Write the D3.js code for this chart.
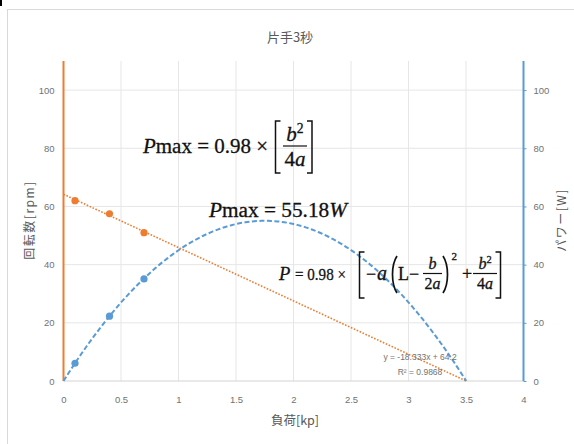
<!DOCTYPE html>
<html>
<head>
<meta charset="utf-8">
<script src="https://cdn.jsdelivr.net/npm/d3@7"></script>
<style>
html, body { margin: 0; padding: 0; background: #fff; }
svg { display: block; }
</style>
</head>
<body>
<div id="chart"></div>
<script>
// measured data (load in kp, rpm, power in W)
var loads = [0.1, 0.4, 0.7];
var rpmValues = [62, 57.5, 51];
var powerValues = [6.1, 22.3, 35.1];

var xTicks = [0, 0.5, 1, 1.5, 2, 2.5, 3, 3.5, 4];
var yTicks = [0, 20, 40, 60, 80, 100];

// linear trendline of rpm, as printed on the chart
var trendSlope = -18.333,
    trendIntercept = 64.2,
    efficiency = 0.98;
var trendLabels = ["y = -18.333x + 64.2", "R² = 0.9868"];

var chartTitle = "片手3秒",
    xTitle = "負荷[kp]",
    yLeftTitle = "回転数[rpm]",
    yRightTitle = "パワー[W]";

function PowerChart(placeholderName, configuration)
{
    this.placeholderName = placeholderName;

    var self = this;

    var width = 574,
        height = 444,
        plot = {left: 63.5, right: 523.5, top: 61, bottom: 381},
        orange = "#ED7D31",
        blue = "#5B9BD5",
        grid = "#e6e6e6",
        ink = "#111",
        labelFont = "'Liberation Sans Narrow', 'Liberation Sans', Arial, sans-serif",
        cjkFont = "'Noto Sans CJK JP', sans-serif",
        mathFont = "'Liberation Serif', 'DejaVu Serif', serif";

    this.configure = function(configuration)
    {
        this.config = configuration;
    }

    this.render = function()
    {
        var cfg = this.config;

        var svg = d3.select(this.placeholderName)
            .append("svg")
            .attr("width", width)
            .attr("height", height);

        // chart area frame
        svg.append("rect")
            .attr("x", 7.5).attr("y", 9.5)
            .attr("width", 700).attr("height", 600)
            .attr("fill", "#fff")
            .attr("stroke", "#d9d9d9");
        svg.append("rect")
            .attr("x", 0).attr("y", 0)
            .attr("width", 2).attr("height", 6)
            .attr("fill", "#000");

        var x = d3.scaleLinear().domain([0, 4]).range([plot.left, plot.right]);
        var yL = d3.scaleLinear().domain([0, 110]).range([plot.bottom, plot.top]);
        var yR = d3.scaleLinear().domain([0, 110]).range([plot.bottom, plot.top]);

        // gridlines
        svg.append("g")
            .selectAll("line")
            .data(xTicks.filter(function(d) { return d > 0 && d < 4; }))
            .enter().append("line")
            .attr("x1", function(d) { return x(d); })
            .attr("x2", function(d) { return x(d); })
            .attr("y1", plot.top).attr("y2", plot.bottom)
            .attr("stroke", grid);

        svg.append("g")
            .selectAll("line")
            .data(yTicks)
            .enter().append("line")
            .attr("x1", plot.left).attr("x2", plot.right)
            .attr("y1", function(d) { return yL(d); })
            .attr("y2", function(d) { return yL(d); })
            .attr("stroke", function(d) { return d === 0 ? "#d4d4d4" : grid; });

        // axes
        var xAxis = svg.append("g")
            .attr("transform", "translate(0," + (plot.bottom + 19) + ")")
            .call(d3.axisBottom(x).tickValues(xTicks).tickSize(0).tickPadding(0).tickFormat(d3.format("")));
        xAxis.select(".domain").remove();

        var leftAxis = svg.append("g")
            .attr("transform", "translate(" + plot.left + ",0)")
            .call(d3.axisLeft(yL).tickValues(yTicks).tickSize(0).tickPadding(9));
        leftAxis.select(".domain")
            .attr("stroke", orange).attr("stroke-width", 2)
            .attr("d", "M0," + plot.top + "V" + plot.bottom);

        var rightAxis = svg.append("g")
            .attr("transform", "translate(" + plot.right + ",0)")
            .call(d3.axisRight(yR).tickValues(yTicks).tickSize(3).tickPadding(7));
        rightAxis.select(".domain")
            .attr("stroke", blue).attr("stroke-width", 2)
            .attr("d", "M0," + plot.top + "V" + plot.bottom);
        rightAxis.selectAll(".tick line").attr("stroke", blue);

        svg.selectAll(".tick text")
            .attr("fill", "#727272")
            .attr("font-family", labelFont)
            .attr("font-size", 9.5);
        xAxis.selectAll(".tick text").attr("dy", "0.35em");

        // titles
        svg.append("text")
            .attr("x", 290).attr("y", 42)
            .attr("text-anchor", "middle")
            .attr("font-family", cjkFont).attr("font-size", 13)
            .attr("fill", "#595959")
            .text(cfg.title);

        svg.append("text")
            .attr("x", 295).attr("y", 425)
            .attr("text-anchor", "middle")
            .attr("font-family", cjkFont).attr("font-size", 12.5)
            .attr("fill", "#595959")
            .text(cfg.xTitle);

        svg.append("text")
            .attr("transform", "translate(34,220) rotate(-90)")
            .attr("text-anchor", "middle")
            .attr("font-family", cjkFont).attr("font-size", 12)
            .attr("letter-spacing", 1.5)
            .attr("fill", "#595959")
            .text(cfg.yLeftTitle);

        svg.append("text")
            .attr("transform", "translate(566,220) rotate(-90)")
            .attr("text-anchor", "middle")
            .attr("font-family", cjkFont).attr("font-size", 12)
            .attr("letter-spacing", 1.5)
            .attr("fill", "#595959")
            .text(cfg.yRightTitle);

        // trendlines
        var xEnd = -trendIntercept / trendSlope;
        var samples = d3.range(0, xEnd, 0.02).concat([xEnd]);
        var rpmFit = function(l) { return trendIntercept + trendSlope * l; };

        svg.append("path")
            .datum(samples)
            .attr("fill", "none")
            .attr("stroke", orange)
            .attr("stroke-width", 1.6)
            .attr("stroke-dasharray", "1.6 1.6")
            .attr("d", d3.line()
                .x(function(d) { return x(d); })
                .y(function(d) { return yL(rpmFit(d)); }));

        svg.append("path")
            .datum(samples)
            .attr("fill", "none")
            .attr("stroke", blue)
            .attr("stroke-width", 2)
            .attr("stroke-dasharray", "5 2.5")
            .attr("d", d3.line()
                .x(function(d) { return x(d); })
                .y(function(d) { return yR(efficiency * d * rpmFit(d)); }));

        // points
        svg.append("g")
            .selectAll("circle")
            .data(loads)
            .enter().append("circle")
            .attr("cx", function(d) { return x(d); })
            .attr("cy", function(d, i) { return yL(rpmValues[i]); })
            .attr("r", 3.6)
            .attr("fill", orange);

        svg.append("g")
            .selectAll("circle")
            .data(loads)
            .enter().append("circle")
            .attr("cx", function(d) { return x(d); })
            .attr("cy", function(d, i) { return yR(powerValues[i]); })
            .attr("r", 3.6)
            .attr("fill", blue);

        // trendline label
        svg.append("g").selectAll("text")
            .data(trendLabels)
            .enter().append("text")
            .attr("x", 420)
            .attr("y", function(d, i) { return 360 + i * 15; })
            .attr("text-anchor", "middle")
            .attr("font-family", labelFont).attr("font-size", 8.5)
            .attr("fill", "#727272")
            .text(function(d) { return d; });

        // equations
        var mathText = function(sel) {
            return sel.attr("font-family", mathFont)
                .attr("fill", ink)
                .attr("stroke", ink)
                .attr("stroke-width", 0.3);
        };
        // parts: [string, italic]; fitted between x0 and x1 on a baseline
        var line = function(x0, x1, base, size, parts) {
            var t = svg.append("text")
                .attr("x", x0).attr("y", base)
                .attr("font-size", size)
                .attr("textLength", x1 - x0)
                .attr("lengthAdjust", "spacingAndGlyphs")
                .call(mathText);
            parts.forEach(function(p) {
                t.append("tspan")
                    .attr("font-style", p[1] ? "italic" : "normal")
                    .text(p[0]);
            });
            return t;
        };
        var frac = function(cx, barY, w, size, num, den, sup) {
            var n = svg.append("text")
                .attr("x", cx).attr("y", barY - 5)
                .attr("text-anchor", "middle")
                .attr("font-size", size)
                .call(mathText);
            n.append("tspan").attr("font-style", "italic").text(num);
            if (sup) {
                n.append("tspan").attr("font-size", size * 0.65)
                    .attr("dy", -size * 0.36).text(sup);
            }
            var d = svg.append("text")
                .attr("x", cx).attr("y", barY + size * 0.97)
                .attr("text-anchor", "middle")
                .attr("font-size", size)
                .call(mathText);
            d.append("tspan").text(den[0]);
            d.append("tspan").attr("font-style", "italic").text(den[1]);
            svg.append("line")
                .attr("x1", cx - w / 2).attr("x2", cx + w / 2)
                .attr("y1", barY).attr("y2", barY)
                .attr("stroke", ink).attr("stroke-width", 1.2);
        };
        var bracket = function(x0, w, top, bottom, open) {
            var p = open
                ? "M" + (x0 + w) + "," + top + "H" + x0 + "V" + bottom + "H" + (x0 + w)
                : "M" + x0 + "," + top + "H" + (x0 + w) + "V" + bottom + "H" + x0;
            svg.append("path").attr("d", p).attr("fill", "none")
                .attr("stroke", ink).attr("stroke-width", 1.5);
        };
        var paren = function(x0, w, top, bottom, open) {
            var a = open ? x0 + w : x0, b = open ? x0 : x0 + w, h = bottom - top;
            svg.append("path")
                .attr("d", "M" + a + "," + top + "C" + b + "," + (top + h * 0.25) + " " + b + "," + (bottom - h * 0.25) + " " + a + "," + bottom)
                .attr("fill", "none").attr("stroke", ink).attr("stroke-width", 1.7);
        };
        var glyph = function(x0, base, s, size, italic) {
            svg.append("text")
                .attr("x", x0).attr("y", base)
                .attr("font-size", size)
                .attr("font-style", italic ? "italic" : "normal")
                .call(mathText)
                .text(s);
        };

        // Pmax = 0.98 x [b^2 / 4a]
        line(143, 268, 153, 22, [["P", true], ["max = 0.98 ×", false]]);
        bracket(275.5, 5, 121, 173, true);
        frac(295, 146, 24, 21, "b", ["4", "a"], "2");
        bracket(307, 5, 121, 173, false);

        // Pmax = 55.18W
        line(209, 347, 217, 20, [["P", true], ["max = 55.18", false], ["W", true]]);

        // P = 0.98 x [-a(L - b/2a)^2 + b^2/4a]
        glyph(279, 280, "P", 18.5, true);
        line(295, 346, 280, 17.5, [["= 0.98 ×", false]]);
        bracket(359.5, 5, 252, 298, true);
        glyph(366, 280, "−", 18);
        glyph(377, 280, "a", 20, true);
        paren(391, 6, 256, 293, true);
        glyph(398, 280, "L", 18);
        glyph(409, 280, "−", 18);
        frac(432.5, 273.5, 19, 16, "b", ["2", "a"]);
        paren(443, 6, 256, 293, false);
        glyph(451.5, 260, "2", 11);
        glyph(462, 280, "+", 18);
        frac(485, 273.5, 24, 16, "b", ["4", "a"], "2");
        bracket(495.5, 5, 252, 298, false);
    }

    this.configure(configuration);
}

var chart = new PowerChart("#chart", {
    title: chartTitle,
    xTitle: xTitle,
    yLeftTitle: yLeftTitle,
    yRightTitle: yRightTitle
});
chart.render();
</script>
</body>
</html>
